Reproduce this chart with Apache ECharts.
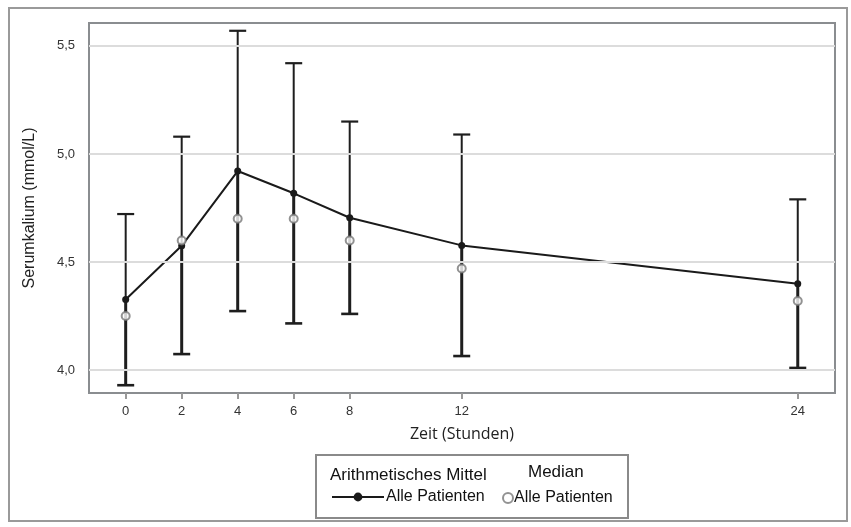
<!DOCTYPE html>
<html>
<head>
<meta charset="utf-8">
<script src="https://cdn.jsdelivr.net/npm/echarts@6/dist/echarts.min.js"></script>
<style>html,body{margin:0;padding:0;background:#fff}#c{width:851px;height:527px}</style>
</head>
<body>
<div id="c"></div>
<script>
var hours = [0, 2, 4, 6, 8, 12, 24];
var meanValues = [4.327, 4.575, 4.921, 4.818, 4.705, 4.577, 4.400];
var medianValues = [4.25, 4.60, 4.70, 4.70, 4.60, 4.47, 4.32];
var upperValues = [4.722, 5.08, 5.57, 5.42, 5.15, 5.09, 4.79];
var lowerValues = [3.93, 4.074, 4.273, 4.216, 4.26, 4.065, 4.01];
var yTicks = [4.0, 4.5, 5.0, 5.5];
var xTicks = [0, 2, 4, 6, 8, 12, 24];

var errData = hours.map(function (h, i) { return [h, lowerValues[i], meanValues[i], upperValues[i]]; });

var chart = echarts.init(document.getElementById('c'), null, {renderer: 'canvas'});
var FONT = '"Liberation Sans", Arial, sans-serif';

function errItem(params, api) {
  var x = api.value(0);
  var lo = api.coord([x, api.value(1)]);
  var mid = api.coord([x, api.value(2)]);
  var hi = api.coord([x, api.value(3)]);
  var cw = 8.5;
  var c = '#1e1e1e';
  return {
    type: 'group',
    children: [
      {type: 'line', shape: {x1: hi[0], y1: hi[1], x2: mid[0], y2: mid[1]}, style: {stroke: c, lineWidth: 2}},
      {type: 'line', shape: {x1: mid[0], y1: mid[1], x2: lo[0], y2: lo[1]}, style: {stroke: c, lineWidth: 3}},
      {type: 'line', shape: {x1: hi[0] - cw, y1: hi[1], x2: hi[0] + cw, y2: hi[1]}, style: {stroke: c, lineWidth: 2.2}},
      {type: 'line', shape: {x1: lo[0] - cw, y1: lo[1], x2: lo[0] + cw, y2: lo[1]}, style: {stroke: c, lineWidth: 2.6}}
    ]
  };
}

chart.setOption({
  animation: false,
  backgroundColor: '#fff',
  grid: {left: 89, top: 23, right: 16, bottom: 134, show: true, borderColor: '#8a8d90', borderWidth: 2, backgroundColor: 'transparent'},
  xAxis: {
    type: 'value', min: -1.31, max: 25.33,
    name: 'Zeit (Stunden)', nameLocation: 'middle', nameGap: 33,
    nameTextStyle: {fontFamily: '"Open Sans", sans-serif', fontSize: 16, color: '#222'},
    axisLine: {show: false},
    axisTick: {show: true, customValues: xTicks, length: 6, lineStyle: {color: '#999', width: 2}},
    axisLabel: {customValues: xTicks, fontFamily: FONT, fontSize: 13, color: '#333', margin: 12},
    splitLine: {show: false}
  },
  yAxis: {
    type: 'value', min: 3.894, max: 5.606,
    name: 'Serumkalium (mmol/L)', nameLocation: 'middle', nameGap: 51,
    nameTextStyle: {fontFamily: FONT, fontSize: 16, color: '#222'},
    axisLine: {show: false},
    axisTick: {show: true, customValues: yTicks, length: 9, lineStyle: {color: '#777', width: 2}},
    axisLabel: {customValues: yTicks, fontFamily: FONT, fontSize: 13, color: '#333', margin: 14,
      formatter: function (v) { return v.toFixed(1).replace('.', ','); }},
    splitLine: {show: false}
  },
  legend: [
    {data: ['mittel'], left: 331, top: 489, padding: 0, itemWidth: 52, itemHeight: 11, itemGap: 4,
     formatter: function () { return 'Alle Patienten'; },
     textStyle: {fontFamily: FONT, fontSize: 16, color: '#111', padding: [0, 0, 0, -3]}},
    {data: ['median'], left: 502, top: 490, padding: 0, itemWidth: 10, itemHeight: 10, itemGap: 2,
     formatter: function () { return 'Alle Patienten'; },
     textStyle: {fontFamily: FONT, fontSize: 16, color: '#111', padding: [0, 0, 0, -4]}}
  ],
  graphic: [
    {type: 'rect', shape: {x: 9, y: 8, width: 838, height: 513}, style: {fill: 'none', stroke: '#9a9a9a', lineWidth: 2}, silent: true, z: -1},
    {type: 'rect', shape: {x: 316, y: 455, width: 312, height: 63}, style: {fill: 'none', stroke: '#8a8a8a', lineWidth: 2}, silent: true},
    {type: 'text', left: 330, top: 467, style: {text: 'Arithmetisches Mittel', font: '17px ' + FONT, fill: '#111'}},
    {type: 'text', left: 528, top: 464, style: {text: 'Median', font: '17px ' + FONT, fill: '#111'}}
  ],
  series: [
    {
      name: 'grid', type: 'line', data: [], silent: true,
      markLine: {silent: true, symbol: 'none', label: {show: false},
        lineStyle: {color: '#dcdcdc', width: 2, type: 'solid'},
        data: yTicks.map(function (v) { return {yAxis: v}; })},
      z: 0
    },
    {
      name: 'err', type: 'custom', data: errData, renderItem: errItem,
      encode: {x: 0, y: [1, 3]}, z: 2, silent: true
    },
    {
      name: 'mittel', type: 'line',
      data: hours.map(function (h, i) { return [h, meanValues[i]]; }),
      symbol: 'circle', symbolSize: 7,
      lineStyle: {color: '#1a1a1a', width: 2},
      itemStyle: {color: '#1a1a1a'}, z: 4
    },
    {
      name: 'median', type: 'scatter',
      data: hours.map(function (h, i) { return [h, medianValues[i]]; }),
      symbol: 'emptyCircle', symbolSize: 8,
      itemStyle: {color: '#777', borderColor: '#777', borderWidth: 1}, z: 5
    }
  ]
});
</script>
</body>
</html>
